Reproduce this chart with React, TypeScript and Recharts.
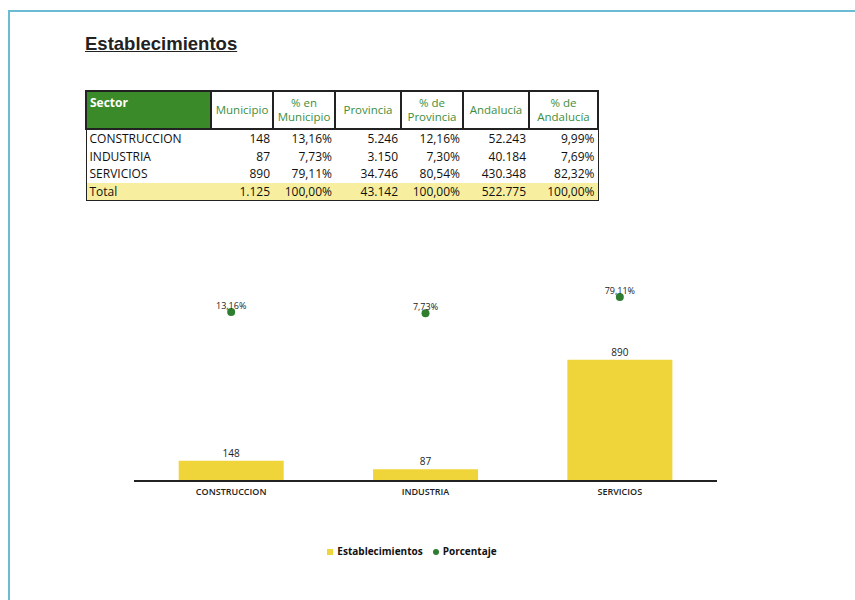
import React from 'react';
import {
  Bar,
  ComposedChart,
  LabelList,
  Legend,
  Line,
  XAxis,
  YAxis,
} from 'recharts';

const sectors = ['CONSTRUCCION', 'INDUSTRIA', 'SERVICIOS'];
const municipio = [148, 87, 890];
const pctMunicipio = [13.16, 7.73, 79.11];
const provincia = [5246, 3150, 34746];
const pctProvincia = [12.16, 7.3, 80.54];
const andalucia = [52243, 40184, 430348];
const pctAndalucia = [9.99, 7.69, 82.32];
const totals = [1125, 43142, 522775];

const headers = ['Municipio', '% en Municipio', 'Provincia', '% de Provincia', 'Andalucía', '% de Andalucía'];
const colWidths = [125, 62, 62, 66, 62, 66, 69];

const BAR_COLOR = '#f0d53a';
const DOT_COLOR = '#2f7d2f';
const GREEN = '#3a8a2a';

// 5246 -> "5.246"
const fmtInt = (n: number) => String(n).replace(/\B(?=(\d{3})+(?!\d))/g, '.');
const fmtPct = (n: number) => n.toFixed(2).replace('.', ',') + '%';

const chartData = sectors.map((s, i) => ({
  sector: s,
  municipio: municipio[i],
  pct: pctMunicipio[i],
}));

const cell: React.CSSProperties = {
  padding: '0 3px',
  height: 17.5,
  lineHeight: '17px',
  whiteSpace: 'nowrap',
};

const App = () => {
  const rows = sectors.map((s, i) => [
    s,
    fmtInt(municipio[i]),
    fmtPct(pctMunicipio[i]),
    fmtInt(provincia[i]),
    fmtPct(pctProvincia[i]),
    fmtInt(andalucia[i]),
    fmtPct(pctAndalucia[i]),
  ]);
  const totalRow = [
    'Total',
    fmtInt(totals[0]),
    '100,00%',
    fmtInt(totals[1]),
    '100,00%',
    fmtInt(totals[2]),
    '100,00%',
  ];

  return (
    <div
      style={{
        position: 'relative',
        width: 855,
        height: 600,
        background: '#fff',
        overflow: 'hidden',
        fontFamily: '"Open Sans", sans-serif',
      }}
    >
      <style>{'body{margin:0}'}</style>
      {/* page frame */}
      <div
        style={{
          position: 'absolute',
          left: 8,
          top: 10,
          width: 860,
          height: 600,
          borderTop: '2px solid #6bbcd2',
          borderLeft: '2px solid #6bbcd2',
        }}
      />

      <ComposedChart
        width={855}
        height={600}
        data={chartData}
        margin={{ top: 285, right: 138, left: 134, bottom: 99 }}
        barCategoryGap="23%"
        style={{ position: 'absolute', left: 0, top: 0 }}
      >
        <XAxis
          dataKey="sector"
          height={20}
          tickLine={false}
          axisLine={{ stroke: '#222', strokeWidth: 2 }}
          tick={{ fontSize: 9, fontWeight: 600, fill: '#222' }}
          tickMargin={2}
        />
        <YAxis yAxisId="n" hide domain={[0, 1440]} />
        <YAxis yAxisId="p" hide domain={[-730, 132]} />
        <Bar
          yAxisId="n"
          dataKey="municipio"
          name="Establecimientos"
          fill={BAR_COLOR}
          legendType="square"
          isAnimationActive={false}
        >
          <LabelList dataKey="municipio" position="top" offset={4} fontSize={10} fill="#222" />
        </Bar>
        <Line
          yAxisId="p"
          dataKey="pct"
          name="Porcentaje"
          stroke={DOT_COLOR}
          strokeWidth={0}
          legendType="circle"
          dot={{ r: 4, fill: DOT_COLOR, stroke: 'none' }}
          activeDot={false}
          isAnimationActive={false}
        >
          <LabelList
            dataKey="pct"
            position="top"
            offset={3}
            fontSize={9}
            fill="#222"
            formatter={(v: any) => fmtPct(Number(v))}
          />
        </Line>
        <Legend
          layout="horizontal"
          verticalAlign="middle"
          align="center"
          iconSize={6}
          wrapperStyle={{ top: 544, left: 300, width: 234, fontSize: 10, fontWeight: 700 }}
          formatter={(value: any) => <span style={{ color: '#111' }}>{value}</span>}
        />
      </ComposedChart>

      <div
        style={{
          position: 'absolute',
          left: 85,
          top: 33,
          fontFamily: '"Liberation Sans", Arial, sans-serif',
          fontWeight: 700,
          fontSize: 18.5,
          color: '#222',
          textDecoration: 'underline',
        }}
      >
        Establecimientos
      </div>

      <table
        style={{
          position: 'absolute',
          left: 85,
          top: 90,
          borderCollapse: 'collapse',
          fontSize: 12,
          color: '#111',
          tableLayout: 'fixed',
          width: colWidths.reduce((a, b) => a + b, 0),
        }}
      >
        <colgroup>
          {colWidths.map((w, i) => (
            <col key={i} style={{ width: w }} />
          ))}
        </colgroup>
        <thead>
          <tr style={{ height: 38 }}>
            <th
              style={{
                background: GREEN,
                color: '#fff',
                textAlign: 'left',
                verticalAlign: 'top',
                fontSize: 12,
                fontWeight: 700,
                padding: '2px 3px',
                border: '2px solid #222',
              }}
            >
              Sector
            </th>
            {headers.map((h) => (
              <th
                key={h}
                style={{
                  border: '2px solid #222',
                  color: '#3e8e3e',
                  fontWeight: 400,
                  fontSize: 11.5,
                  lineHeight: '14px',
                  padding: '0 1px',
                  textAlign: 'center',
                }}
              >
                {h}
              </th>
            ))}
          </tr>
        </thead>
        <tbody style={{ borderLeft: '1px solid #222', borderRight: '1px solid #222' }}>
          {rows.map((r, i) => (
            <tr key={i}>
              {r.map((c, j) => (
                <td key={j} style={{ ...cell, textAlign: j === 0 ? 'left' : 'right' }}>
                  {c}
                </td>
              ))}
            </tr>
          ))}
          <tr style={{ background: '#f7ef9f', borderBottom: '1px solid #222' }}>
            {totalRow.map((c, j) => (
              <td key={j} style={{ ...cell, textAlign: j === 0 ? 'left' : 'right' }}>
                {c}
              </td>
            ))}
          </tr>
        </tbody>
      </table>
    </div>
  );
};

export default App;
